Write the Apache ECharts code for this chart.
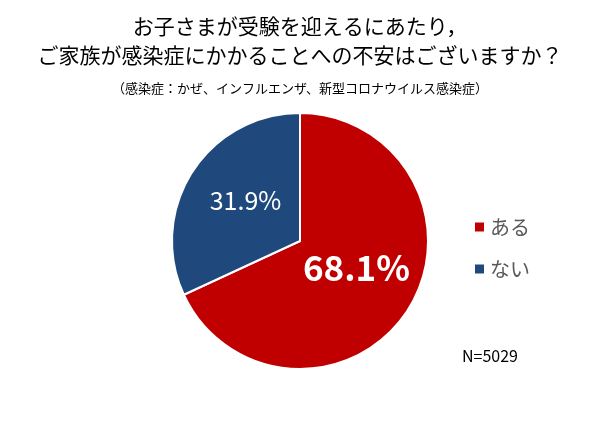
<!DOCTYPE html>
<html><head><meta charset="utf-8">
<script src="https://cdn.jsdelivr.net/npm/echarts@6/dist/echarts.min.js"></script>
<style>html,body{margin:0;padding:0;background:#fff}#c{width:600px;height:430px}</style>
</head><body><div id="c"></div>
<script>
var categories = ['ある', 'ない'];
var values = [68.1, 31.9];
var colors = ['#C00000', '#1F497D'];
var titleText = 'お子さまが受験を迎えるにあたり，\nご家族が感染症にかかることへの不安はございますか？';
var subText = '（感染症：かぜ、インフルエンザ、新型コロナウイルス感染症）';
var nText = 'N=5029';
var FONT = '"Noto Sans CJK JP", "Noto Sans", sans-serif';
var chart = echarts.init(document.getElementById('c'));
chart.setOption({
  animation: false,
  title: [
    {text: titleText, left: 'center', top: 7, textStyle: {fontFamily: FONT, fontSize: 21, fontWeight: 'normal', color: '#000', lineHeight: 29}},
    {text: subText, left: 'center', top: 77, textStyle: {fontFamily: FONT, fontSize: 13, fontWeight: 'normal', color: '#000'}},
    {text: nText, left: 457, top: 343, textStyle: {fontFamily: FONT, fontSize: 16, fontWeight: 'normal', color: '#000'}}
  ],
  legend: {
    orient: 'vertical', left: 468, top: 212, icon: 'rect', itemWidth: 11, itemHeight: 11, itemGap: 22,
    textStyle: {fontFamily: FONT, fontSize: 20, color: '#595959'},
    data: categories
  },
  series: [{
    type: 'pie', center: [300, 241], radius: [0, 128], startAngle: 90, clockwise: true,
    itemStyle: {borderColor: '#fff', borderWidth: 2},
    label: {position: 'inside', color: '#fff', fontFamily: FONT,
      formatter: function(p){ return p.value.toFixed(1) + '%'; }},
    labelLine: {show: false},
    data: categories.map(function(c, i){
      return {name: c, value: values[i], itemStyle: {color: colors[i]},
        label: i === 0 ? {fontSize: 35, fontWeight: 'bold', offset: [0, -9]} : {fontSize: 25, fontWeight: 'normal', offset: [2, -4]}};
    })
  }]
});
</script></body></html>
